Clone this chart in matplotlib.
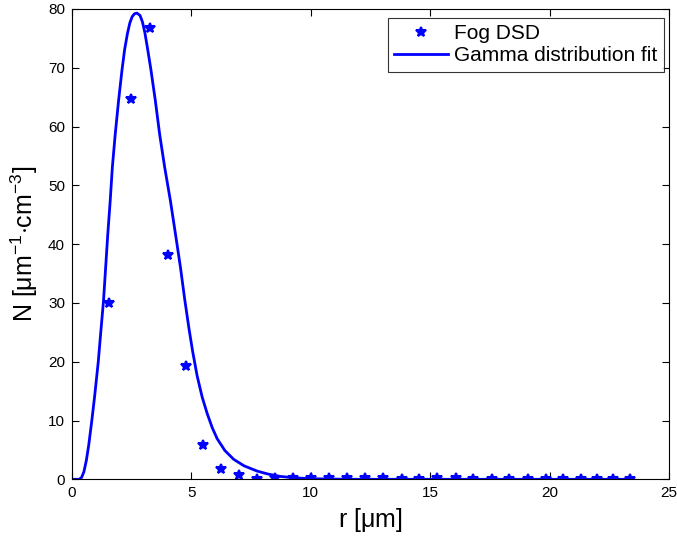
import numpy as np
import matplotlib
matplotlib.use("Agg")
import matplotlib.pyplot as plt

plt.rcParams['font.family'] = ['Liberation Sans', 'DejaVu Sans']
plt.rcParams['mathtext.fontset'] = 'custom'
plt.rcParams['mathtext.rm'] = 'Liberation Sans'
plt.rcParams['mathtext.it'] = 'Liberation Sans'

# measured fog droplet size distribution
r_dsd = [1.53, 2.49, 3.25, 4.0, 4.76, 5.5, 6.26, 7.0, 7.76, 8.5, 9.26, 10.0,
         10.77, 11.5, 12.28, 13.03, 13.8, 14.55, 15.3, 16.06, 16.8, 17.57,
         18.3, 19.08, 19.83, 20.58, 21.3, 22.0, 22.67, 23.37]
n_dsd = [30.0, 64.7, 76.8, 38.2, 19.3, 5.9, 1.8, 0.7, 0.1, 0.2, 0.2, 0.2,
         0.2, 0.2, 0.2, 0.2, 0.0, 0.0, 0.2, 0.2, 0.1, 0.0, 0.0, 0.0,
         0.0, 0.0, 0.0, 0.0, 0.0, 0.0]

# gamma fit curve
r_fit = [0, 0.3, 0.4, 0.5, 0.6, 0.7, 0.83, 0.95, 1.1, 1.2, 1.32, 1.41, 1.5,
         1.6, 1.69, 1.81, 1.95, 2.09, 2.2, 2.32, 2.42, 2.52, 2.62, 2.72, 2.85,
         2.95, 3.05, 3.15, 3.3, 3.49, 3.67, 3.88, 4.12, 4.33, 4.54, 4.72, 4.9,
         5.05, 5.24, 5.45, 5.66, 5.87, 6.08, 6.4, 6.77, 7.2, 7.75, 8.2, 8.7,
         9.3, 10.0, 11.0, 12.0, 23.37]
n_fit = [0, 0, 0.3, 1.3, 3.2, 5.8, 10, 14.2, 20, 24.8, 30.4, 36.1, 41.8,
         47.4, 53.1, 58.7, 64.4, 69.5, 73.0, 75.8, 77.6, 78.7, 79.2, 79.3, 78.9,
         77.8, 76.0, 73.6, 69.8, 64.4, 58.7, 53.1, 47.4, 41.8, 36.1, 30.6, 25.6,
         21.8, 17.6, 14.0, 11.2, 8.8, 6.9, 4.9, 3.4, 2.3, 1.4, 0.9, 0.5,
         0.25, 0.1, 0.03, 0, 0]

fig = plt.figure(figsize=(6.77, 5.44), dpi=100)
ax = fig.add_axes([72/677, 1 - 479.3/544, (669-72)/677, (479.3-9)/544])

ax.plot(r_dsd, n_dsd, '*', color='#0000ff', markersize=7, markeredgewidth=1.5,
        label='Fog DSD')
ax.plot(r_fit, n_fit, '-', color='#0000ff', linewidth=2.0,
        label='Gamma distribution fit')

ax.set_xlim(0, 25)
ax.set_ylim(0, 80)
ax.set_xticks(np.arange(0, 26, 5))
ax.set_yticks(np.arange(0, 81, 10))
ax.tick_params(direction='in', length=5, width=0.8, top=True, right=True,
               labelsize=11, pad=5)
for s in ax.spines.values():
    s.set_linewidth(0.8)

ax.set_xlabel(r'r [$\mathrm{\mu}$m]', fontsize=18, labelpad=4)
ax.set_ylabel(r'N [$\mathrm{\mu}$m$^{-1}$$\cdot$cm$^{-3}$]', fontsize=18,
              labelpad=6)

leg = ax.legend(loc='upper right', bbox_to_anchor=(0.9916, 0.981),
                fontsize=15, frameon=True, fancybox=False, handlelength=2.6,
                handletextpad=0.3, labelspacing=0.15, borderpad=0.3,
                borderaxespad=0)
leg.get_frame().set_edgecolor('black')
leg.get_frame().set_linewidth(0.8)

fig.savefig('out.png', dpi=100)
